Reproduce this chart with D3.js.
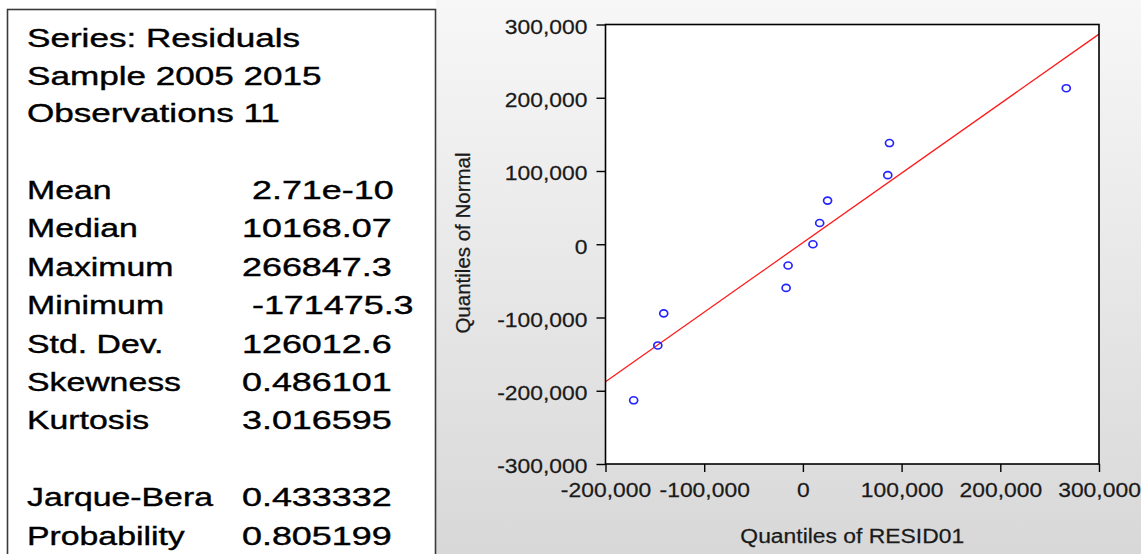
<!DOCTYPE html>
<html>
<head>
<meta charset="utf-8">
<script src="https://cdn.jsdelivr.net/npm/d3@7"></script>
<style>
	body { margin: 0; background: #fff; }
	svg text { font-family: Arial, "Liberation Sans", sans-serif; }
</style>
</head>
<body>
<div id="viz-holder"></div>
<script>
// descriptive statistics box
let headerLines = ["Series: Residuals", "Sample 2005 2015", "Observations 11"];
let statNames = ["Mean", "Median", "Maximum", "Minimum", "Std. Dev.", "Skewness", "Kurtosis", "", "Jarque-Bera", "Probability"];
let statValues = ["\u00a02.71e-10", "10168.07", "266847.3", "\u00a0-171475.3", "126012.6", "0.486101", "3.016595", "", "0.433332", "0.805199"];

// quantile-quantile plot
let residQuantiles = [-171475, -147000, -141000, -17000, -15000, 10168, 17000, 25000, 86000, 87700, 266847];
let normalQuantiles = [-213000, -138200, -94300, -59600, -29000, 0, 29000, 59600, 94300, 138200, 213000];
let fitLineX = [-200000, 300000];
let fitLineY = [-187600, 286900];
let xTicks = [-200000, -100000, 0, 100000, 200000, 300000];
let yTicks = [-300000, -200000, -100000, 0, 100000, 200000, 300000];

let width = 1141;
let height = 554;

let svg = d3.select('#viz-holder')
	.append('svg')
	.attr('width', width)
	.attr('height', height);

let defs = svg.append('defs');
let grad = defs.append('linearGradient')
	.attr('id', 'bg')
	.attr('x1', 0).attr('y1', 0).attr('x2', 0).attr('y2', 1);
grad.append('stop').attr('offset', '0%').attr('stop-color', '#f7f7f7');
grad.append('stop').attr('offset', '100%').attr('stop-color', '#d8d8d8');

svg.append('rect')
	.attr('x', 436).attr('y', 0)
	.attr('width', width - 436).attr('height', height)
	.attr('fill', 'url(#bg)');

// left box
svg.append('rect')
	.attr('x', 7.5).attr('y', 9.5)
	.attr('width', 428).attr('height', 600)
	.attr('fill', '#fff')
	.attr('stroke', '#3a3a3a')
	.attr('stroke-width', 1.6);

svg.selectAll('.header')
	.data(headerLines)
	.enter()
	.append('text')
	.attr('class', 'header')
	.attr('transform', (d, i) => 'translate(27,' + (47 + i * 37.5) + ') scale(1.35,1)')
	.attr('font-size', 26)
	.attr('fill', '#000')
	.attr('stroke', '#000')
	.attr('stroke-width', 0.4)
	.text(d => d);

svg.selectAll('.statName')
	.data(statNames)
	.enter()
	.append('text')
	.attr('class', 'statName')
	.attr('transform', (d, i) => 'translate(27,' + (199 + i * 38.4) + ') scale(1.3,1)')
	.attr('font-size', 26)
	.attr('fill', '#000')
	.attr('stroke', '#000')
	.attr('stroke-width', 0.4)
	.text(d => d);

svg.selectAll('.statValue')
	.data(statValues)
	.enter()
	.append('text')
	.attr('class', 'statValue')
	.attr('transform', (d, i) => 'translate(242,' + (199 + i * 38.4) + ') scale(1.38,1)')
	.attr('font-size', 26)
	.attr('fill', '#000')
	.attr('stroke', '#000')
	.attr('stroke-width', 0.4)
	.text(d => d);

// plot
let plot = {left: 605.5, right: 1099, top: 24.5, bottom: 464};

let xScale = d3.scaleLinear()
	.domain([-200000, 300000])
	.range([plot.left, plot.right]);

let yScale = d3.scaleLinear()
	.domain([-300000, 300000])
	.range([plot.bottom, plot.top]);

let fmt = d3.formatLocale({decimal: ".", thousands: ",", grouping: [3], currency: ["", ""], minus: "-"}).format(",");

svg.append('rect')
	.attr('x', plot.left).attr('y', plot.top)
	.attr('width', plot.right - plot.left).attr('height', plot.bottom - plot.top)
	.attr('fill', '#fff');

svg.append('clipPath')
	.attr('id', 'clip')
	.append('rect')
	.attr('x', plot.left).attr('y', plot.top)
	.attr('width', plot.right - plot.left).attr('height', plot.bottom - plot.top);

let sx = 1.09;

let yAxis = d3.axisLeft(yScale)
	.tickValues(yTicks)
	.tickFormat(fmt)
	.tickSize(9)
	.tickPadding(9);

let gy = svg.append('g')
	.attr('transform', 'translate(' + plot.left + ',0)')
	.call(yAxis);

let xAxis = d3.axisBottom(xScale)
	.tickValues(xTicks)
	.tickFormat(fmt)
	.tickSize(8)
	.tickPadding(10);

let gx = svg.append('g')
	.attr('transform', 'translate(0,' + plot.bottom + ')')
	.call(xAxis);

[gx, gy].forEach(g => {
	g.select('.domain').remove();
	g.selectAll('.tick line').attr('stroke', '#000').attr('stroke-width', 1.4);
	g.selectAll('.tick text')
		.attr('font-size', 21)
		.attr('font-family', 'Arial, "Liberation Sans", sans-serif')
		.attr('fill', '#1a1a1a')
		.attr('stroke', '#1a1a1a')
		.attr('stroke-width', 0.25)
		.attr('transform', 'scale(' + sx + ',1)');
});
gy.selectAll('.tick text').attr('dy', '0.42em').attr('x', -18 / sx);

svg.append('path')
	.datum(fitLineX.map((x, i) => [x, fitLineY[i]]))
	.attr('clip-path', 'url(#clip)')
	.attr('fill', 'none')
	.attr('stroke', '#ff1a1a')
	.attr('stroke-width', 1.3)
	.attr('d', d3.line().x(d => xScale(d[0])).y(d => yScale(d[1])));

svg.selectAll('.circle')
	.data(residQuantiles)
	.enter()
	.append('ellipse')
	.attr('class', 'circle')
	.attr('cx', d => xScale(d))
	.attr('cy', (d, i) => yScale(normalQuantiles[i]))
	.attr('rx', 4)
	.attr('ry', 3.5)
	.attr('fill', 'none')
	.attr('stroke', '#2424ff')
	.attr('stroke-width', 1.7);

svg.append('rect')
	.attr('x', plot.left).attr('y', plot.top)
	.attr('width', plot.right - plot.left).attr('height', plot.bottom - plot.top)
	.attr('fill', 'none')
	.attr('stroke', '#000')
	.attr('stroke-width', 1.6);

svg.append('text')
	.attr('transform', 'translate(' + ((plot.left + plot.right) / 2) + ',543) scale(' + sx + ',1)')
	.attr('text-anchor', 'middle')
	.attr('font-size', 21)
	.attr('fill', '#1a1a1a')
	.attr('stroke', '#1a1a1a')
	.attr('stroke-width', 0.25)
	.text('Quantiles of RESID01');

svg.append('text')
	.attr('transform', 'translate(470,243) rotate(-90)')
	.attr('text-anchor', 'middle')
	.attr('font-size', 20.5)
	.attr('fill', '#1a1a1a')
	.attr('stroke', '#1a1a1a')
	.attr('stroke-width', 0.25)
	.text('Quantiles of Normal');
</script>
</body>
</html>
